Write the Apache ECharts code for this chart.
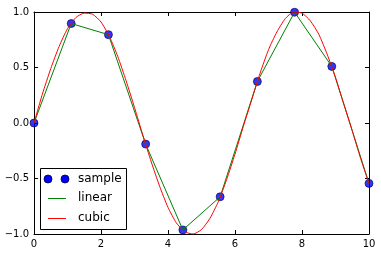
<!DOCTYPE html>
<html><head><meta charset="utf-8">
<script src="https://cdn.jsdelivr.net/npm/echarts@6/dist/echarts.min.js"></script>
<style>html,body{margin:0;padding:0;background:#fff}#c{width:381px;height:256px}</style>
</head><body><div id="c"></div>
<script>
const sampleX = [0, 1.111, 2.222, 3.333, 4.444, 5.556, 6.667, 7.778, 8.889, 10];
const sampleY = [0, 0.896, 0.796, -0.190, -0.963, -0.665, 0.374, 0.998, 0.510, -0.544];
const cubicX = [0,0.25,0.5,0.75,1,1.25,1.5,1.75,2,2.25,2.5,2.75,3,3.25,3.5,3.75,4,4.25,4.5,4.75,5,5.25,5.5,5.75,6,6.25,6.5,6.75,7,7.25,7.5,7.75,8,8.25,8.5,8.75,9,9.25,9.5,9.75,10];
const cubicY = [0,0.26,0.49,0.69,0.85,0.95,0.99,0.98,0.91,0.78,0.60,0.38,0.14,-0.11,-0.35,-0.57,-0.76,-0.90,-0.98,-1.00,-0.96,-0.86,-0.71,-0.51,-0.28,-0.03,0.21,0.45,0.66,0.82,0.94,1.00,0.99,0.92,0.80,0.62,0.41,0.17,-0.07,-0.32,-0.544];
const xTicks = [0,2,4,6,8,10];
const yTicks = [-1,-0.5,0,0.5,1];
const legendNames = ['sample','linear','cubic'];

const pair = (xs, ys) => xs.map((x,i)=>[x, ys[i]]);
const font = 'DejaVu Sans';
const chart = echarts.init(document.getElementById('c'), null, {renderer:'canvas'});
const fmtY = v => (v<0?'\u2212':'') + Math.abs(v).toFixed(1);
chart.setOption({
  animation:false,
  grid:{left:34,right:12,top:12,bottom:22},
  xAxis:[{type:'value',min:0,max:10,interval:2,position:'bottom',
    axisLine:{show:true,onZero:false,lineStyle:{color:'#000',width:1}},
    axisTick:{show:true,inside:true,length:4,lineStyle:{color:'#000'}},
    axisLabel:{color:'#000',fontFamily:font,fontSize:10,margin:5,formatter:v=>String(v)},
    splitLine:{show:false}},
    {type:'value',min:0,max:10,interval:2,position:'top',
    axisLine:{show:true,onZero:false,lineStyle:{color:'#000',width:1}},
    axisTick:{show:true,inside:true,length:4,lineStyle:{color:'#000'}},
    axisLabel:{show:false},splitLine:{show:false}}],
  yAxis:[{type:'value',min:-1,max:1,interval:0.5,position:'left',
    axisLine:{show:true,onZero:false,lineStyle:{color:'#000',width:1}},
    axisTick:{show:true,inside:true,length:4,lineStyle:{color:'#000'}},
    axisLabel:{color:'#000',fontFamily:font,fontSize:10,margin:5,formatter:fmtY},
    splitLine:{show:false}},
    {type:'value',min:-1,max:1,interval:0.5,position:'right',
    axisLine:{show:true,onZero:false,lineStyle:{color:'#000',width:1}},
    axisTick:{show:true,inside:true,length:4,lineStyle:{color:'#000'}},
    axisLabel:{show:false},splitLine:{show:false}}],
  series:[
    {name:legendNames[0],type:'scatter',data:pair(sampleX,sampleY),symbol:'circle',symbolSize:8,
     itemStyle:{color:'#0000ff',borderColor:'#000040',borderWidth:0.8},z:2},
    {name:legendNames[1],type:'line',data:pair(sampleX,sampleY),symbol:'none',
     lineStyle:{color:'#008000',width:1},z:3},
    {name:legendNames[2],type:'line',data:pair(cubicX,cubicY),symbol:'none',smooth:0.2,
     lineStyle:{color:'#ff0000',width:1},z:4}
  ],
  graphic:[
    {type:'rect',z:100,shape:{x:40.5,y:168.5,width:86,height:61},style:{fill:'#fff',stroke:'#000',lineWidth:1}},
    {type:'circle',z:101,shape:{cx:48,cy:179,r:4},style:{fill:'#0000ff',stroke:'#000040',lineWidth:0.8}},
    {type:'circle',z:101,shape:{cx:65,cy:179,r:4},style:{fill:'#0000ff',stroke:'#000040',lineWidth:0.8}},
    {type:'line',z:101,shape:{x1:48,y1:198.5,x2:66,y2:198.5},style:{stroke:'#008000',lineWidth:1}},
    {type:'line',z:101,shape:{x1:48,y1:218.5,x2:66,y2:218.5},style:{stroke:'#ff0000',lineWidth:1}},
    {type:'text',z:101,x:78,y:179,style:{text:legendNames[0],fill:'#000',font:'12px "DejaVu Sans"',textVerticalAlign:'middle'}},
    {type:'text',z:101,x:78,y:198,style:{text:legendNames[1],fill:'#000',font:'12px "DejaVu Sans"',textVerticalAlign:'middle'}},
    {type:'text',z:101,x:78,y:218,style:{text:legendNames[2],fill:'#000',font:'12px "DejaVu Sans"',textVerticalAlign:'middle'}}
  ]
});
</script></body></html>
